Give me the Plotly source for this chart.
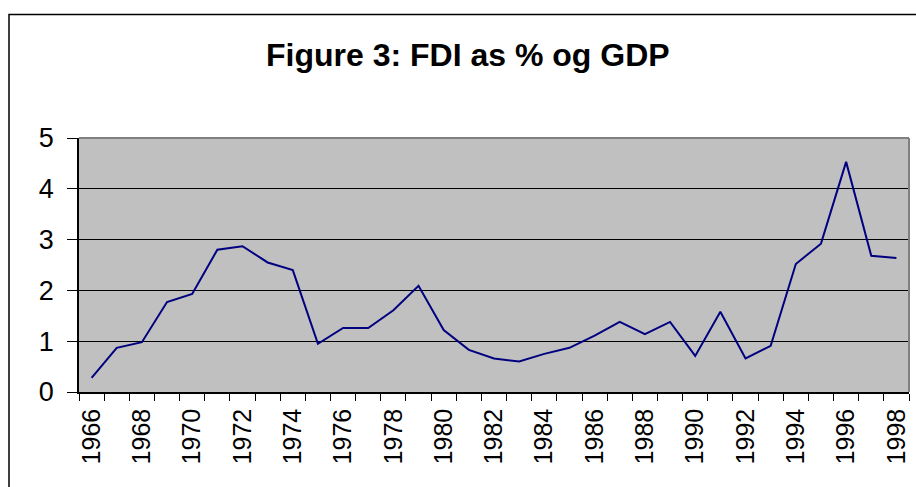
import plotly.graph_objects as go

years = list(range(1966, 1999))
fdi_pct_gdp = [0.28, 0.87, 0.98, 1.77, 1.93, 2.80, 2.87, 2.55, 2.40, 0.95,
               1.26, 1.26, 1.61, 2.09, 1.22, 0.83, 0.66, 0.60, 0.75, 0.87,
               1.11, 1.38, 1.14, 1.38, 0.71, 1.58, 0.66, 0.91, 2.52, 2.92,
               4.53, 2.68, 2.64]
x_tick_labels = [str(y) for y in range(1966, 1999, 2)]
y_ticks = [0, 1, 2, 3, 4, 5]

W, H = 916, 487
L, R, T, B = 79, 7, 138, 95
pw, ph = W - L - R, H - T - B

def px_x(x):
    return (x - L) / pw

def px_y(y):
    return (H - B - y) / ph

fig = go.Figure()
fig.add_trace(go.Scatter(
    x=years, y=fdi_pct_gdp, mode="lines",
    line=dict(color="#000080", width=2), hoverinfo="x+y", showlegend=False))

fig.update_layout(
    width=W, height=H,
    margin=dict(l=L, r=R, t=T, b=B, pad=0, autoexpand=False),
    paper_bgcolor="white", plot_bgcolor="#C0C0C0",
    font=dict(family="Liberation Sans, Arial, sans-serif", color="black"),
    showlegend=False,
)
fig.update_xaxes(
    range=[1965.5, 1998.5], tickmode="array",
    tickvals=[int(t) for t in x_tick_labels], ticktext=x_tick_labels,
    tickangle=-90, tickfont=dict(size=25), ticks="", showgrid=False,
    zeroline=False, showline=True, linecolor="black", linewidth=1.5,
    minor=dict(tickmode="linear", tick0=1965.5, dtick=1, ticks="outside",
               ticklen=7, tickcolor="black", tickwidth=1, showgrid=False),
    ticklabelstandoff=5, automargin=False,
)
fig.update_yaxes(
    range=[0, 5], tickmode="array", tickvals=y_ticks,
    ticktext=[str(v) for v in y_ticks], tickfont=dict(size=27),
    ticks="outside", ticklen=10, tickcolor="black", tickwidth=1,
    showgrid=True, gridcolor="#000000", gridwidth=1,
    zeroline=False, showline=True, linecolor="black", linewidth=1.5,
    ticklabelstandoff=8, automargin=False,
)

# plot area border (top/right gray)
fig.add_shape(type="line", xref="paper", yref="paper", x0=0, x1=1, y0=1, y1=1,
              line=dict(color="#808080", width=2))
fig.add_shape(type="line", xref="paper", yref="paper", x0=1, x1=1, y0=0, y1=1,
              line=dict(color="#808080", width=2))
# outer chart frame
fig.add_shape(type="rect", xref="paper", yref="paper",
              x0=px_x(9), x1=px_x(930), y0=px_y(500), y1=px_y(14.5),
              line=dict(color="black", width=1.5), fillcolor="rgba(0,0,0,0)", layer="above")

fig.add_annotation(text="<b>Figure 3: FDI as % og GDP</b>", xref="paper", yref="paper",
                   x=px_x(468), y=px_y(55), xanchor="center", yanchor="middle",
                   showarrow=False, font=dict(size=32, family="Liberation Sans, Arial, sans-serif"))

fig.write_html("out.html", include_plotlyjs=True, full_html=True,
               config={"displayModeBar": False},
               post_script="document.body.style.margin='0';document.body.style.overflow='hidden';")
